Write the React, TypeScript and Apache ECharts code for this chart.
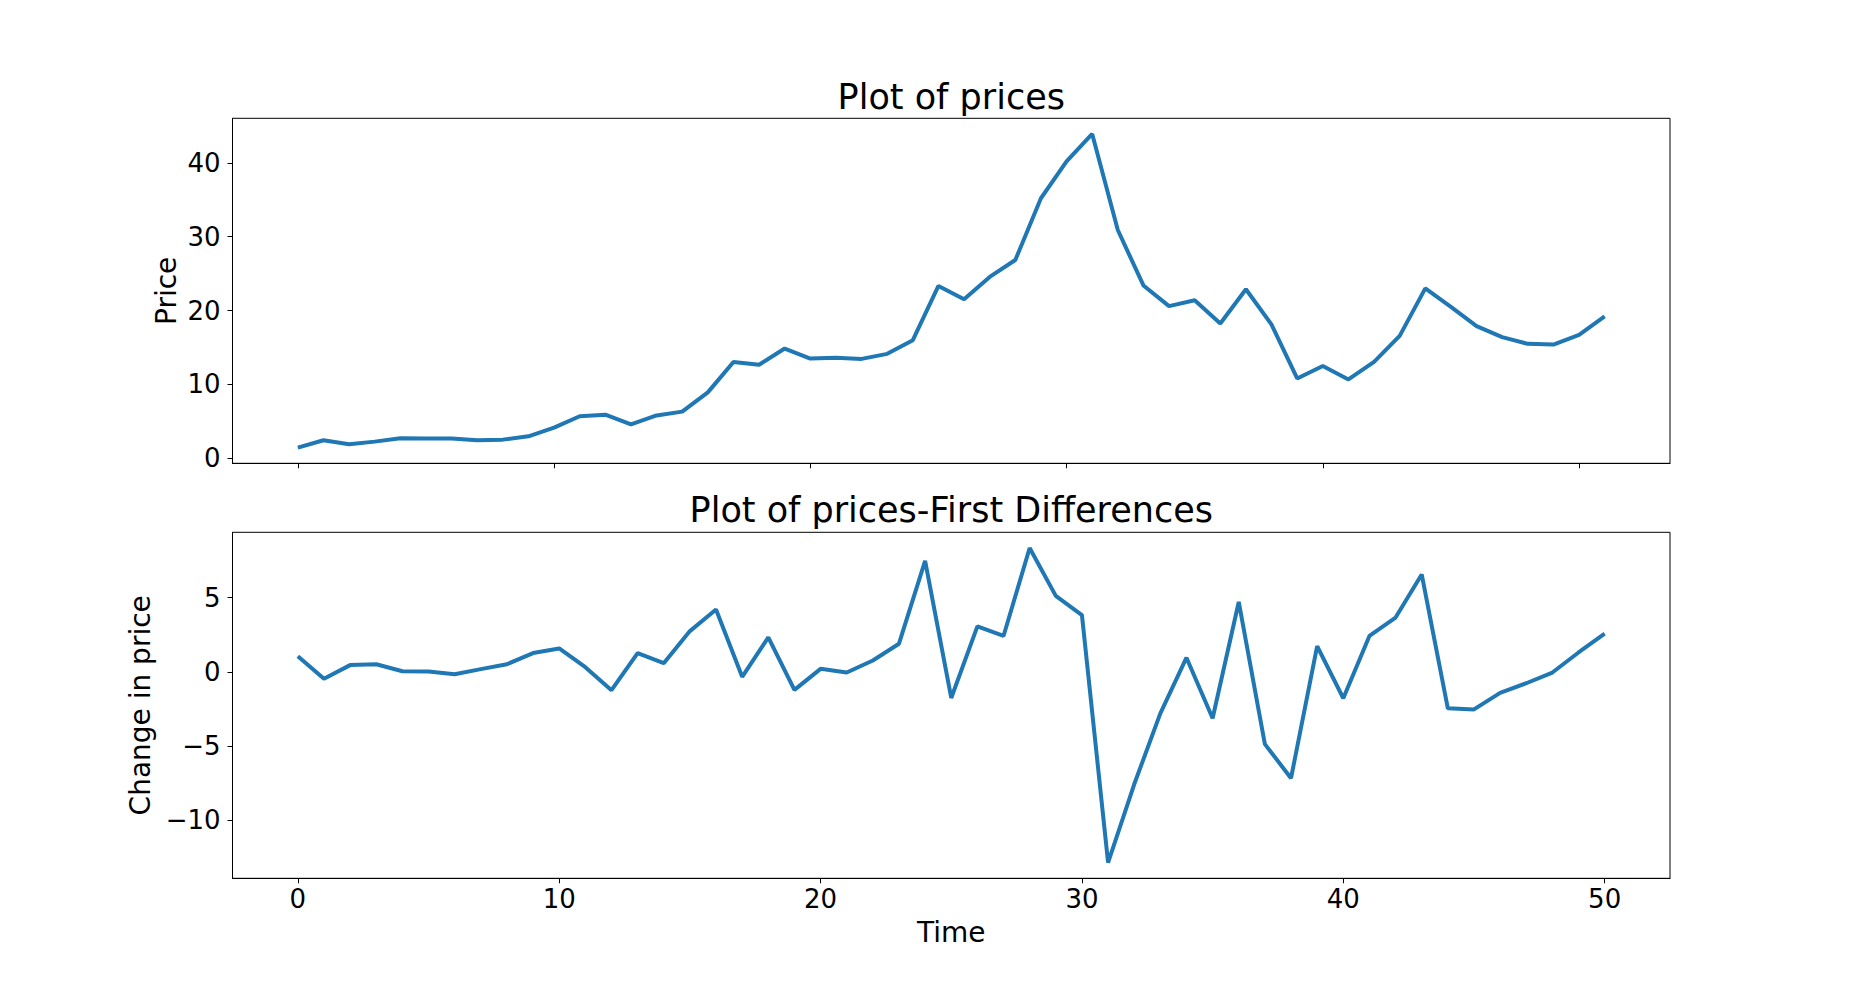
import React, { useEffect, useRef } from "react";
import * as echarts from "echarts";

// Prices at time 0..51 (top panel)
const prices: number[] = [
  1.45, 2.45, 1.9, 2.26, 2.71, 2.7, 2.68, 2.45, 2.53, 2.98,
  4.15, 5.69, 5.91, 4.6, 5.81, 6.32, 8.93, 13.03, 12.66, 14.86,
  13.51, 13.6, 13.46, 14.14, 15.99, 23.33, 21.53, 24.55, 26.84, 35.2,
  40.2, 43.9, 30.9, 23.4, 20.6, 21.4, 18.24, 22.88, 18.1, 10.81,
  12.5, 10.68, 13.06, 16.57, 23.0, 20.5, 17.9, 16.4, 15.5, 15.4,
  16.7, 19.2,
];

// First differences at time 0..50 (bottom panel)
const diffs: number[] = [
  1.05, -0.47, 0.45, 0.51, 0.04, 0.02, -0.16, 0.18, 0.51, 1.26,
  1.57, 0.31, -1.24, 1.26, 0.58, 2.74, 4.19, -0.34, 2.32, -1.22,
  0.2, -0.05, 0.76, 1.89, 7.47, -1.76, 3.06, 2.41, 8.33, 5.11,
  3.82, -12.84, -7.57, -2.8, 0.95, -3.13, 4.7, -4.87, -7.16, 1.73,
  -1.78, 2.41, 3.65, 6.55, -2.46, -2.53, -1.42, -0.77, -0.05, 1.3,
  2.57,
];

const xTicks: number[] = [0, 10, 20, 30, 40, 50];
const priceTicks: number[] = [0, 10, 20, 30, 40];
const diffTicks: number[] = [-10, -5, 0, 5];

const topTitle = "Plot of prices";
const bottomTitle = "Plot of prices-First Differences";
const topYLabel = "Price";
const bottomYLabel = "Change in price";
const xLabel = "Time";

const FONT = "DejaVu Sans";
const LINE_COLOR = "#1f77b4";
const TICK_FONT = 26;
const LABEL_FONT = 28;
const TITLE_FONT = 35;

function fmt(v: number): string {
  return String(v).replace("-", "\u2212");
}

export default function App() {
  const ref = useRef<HTMLDivElement>(null);

  useEffect(() => {
    if (!ref.current) return;
    const chart = echarts.init(ref.current, undefined, { renderer: "svg" });

    const pMin = Math.min(...prices);
    const pMax = Math.max(...prices);
    const pR = pMax - pMin;
    const dMin = Math.min(...diffs);
    const dMax = Math.max(...diffs);
    const dR = dMax - dMin;
    const nTop = prices.length - 1;
    const nBot = diffs.length - 1;

    const gridLeft = 232.5;
    const gridRight = 185;

    const axisLine = { show: true, onZero: false, lineStyle: { color: "#000", width: 1 } };
    const tick = (vals: number[]) => ({
      show: true,
      length: 5,
      customValues: vals,
      lineStyle: { color: "#000", width: 1 },
    });
    const label = (vals: number[], margin: number) => ({
      customValues: vals,
      fontFamily: FONT,
      fontSize: TICK_FONT,
      color: "#000",
      margin,
      formatter: (v: number) => fmt(v),
    });

    const textStyle = (size: number) => ({
      fontFamily: FONT,
      fontSize: size,
      fill: "#000",
    });

    chart.setOption({
      animation: false,
      backgroundColor: "#fff",
      grid: [
        {
          left: gridLeft,
          right: gridRight,
          top: 118.3,
          height: 345,
          show: true,
          borderColor: "#000",
          borderWidth: 1,
          backgroundColor: "transparent",
        },
        {
          left: gridLeft,
          right: gridRight,
          top: 532.3,
          height: 346,
          show: true,
          borderColor: "#000",
          borderWidth: 1,
          backgroundColor: "transparent",
        },
      ],
      xAxis: [
        {
          type: "value",
          gridIndex: 0,
          min: -0.05 * nTop,
          max: nTop * 1.05,
          axisLine,
          axisTick: tick(xTicks),
          axisLabel: { show: false },
          splitLine: { show: false },
        },
        {
          type: "value",
          gridIndex: 1,
          min: -0.05 * nBot,
          max: nBot * 1.05,
          axisLine,
          axisTick: tick(xTicks),
          axisLabel: label(xTicks, 8),
          splitLine: { show: false },
        },
      ],
      yAxis: [
        {
          type: "value",
          gridIndex: 0,
          min: pMin - 0.05 * pR,
          max: pMax + 0.05 * pR,
          axisLine,
          axisTick: tick(priceTicks),
          axisLabel: label(priceTicks, 12),
          splitLine: { show: false },
        },
        {
          type: "value",
          gridIndex: 1,
          min: dMin - 0.05 * dR,
          max: dMax + 0.05 * dR,
          axisLine,
          axisTick: tick(diffTicks),
          axisLabel: label(diffTicks, 12),
          splitLine: { show: false },
        },
      ],
      series: [
        {
          type: "line",
          xAxisIndex: 0,
          yAxisIndex: 0,
          data: prices.map((v, i) => [i, v]),
          showSymbol: false,
          symbol: "none",
          lineStyle: { color: LINE_COLOR, width: 4 },
        },
        {
          type: "line",
          xAxisIndex: 1,
          yAxisIndex: 1,
          data: diffs.map((v, i) => [i, v]),
          showSymbol: false,
          symbol: "none",
          lineStyle: { color: LINE_COLOR, width: 4 },
        },
      ],
      graphic: [
        {
          type: "text",
          x: 951.25,
          y: 97,
          style: { ...textStyle(TITLE_FONT), text: topTitle, textAlign: "center", textVerticalAlign: "middle" },
        },
        {
          type: "text",
          x: 951.25,
          y: 510.3,
          style: { ...textStyle(TITLE_FONT), text: bottomTitle, textAlign: "center", textVerticalAlign: "middle" },
        },
        {
          type: "text",
          x: 951.25,
          y: 932.5,
          style: { ...textStyle(LABEL_FONT), text: xLabel, textAlign: "center", textVerticalAlign: "middle" },
        },
        {
          type: "text",
          x: 166,
          y: 290.8,
          rotation: Math.PI / 2,
          style: { ...textStyle(LABEL_FONT), text: topYLabel, textAlign: "center", textVerticalAlign: "middle" },
        },
        {
          type: "text",
          x: 140,
          y: 705.3,
          rotation: Math.PI / 2,
          style: { ...textStyle(LABEL_FONT), text: bottomYLabel, textAlign: "center", textVerticalAlign: "middle" },
        },
      ],
    });

    return () => {
      chart.dispose();
    };
  }, []);

  return (
    <div
      ref={ref}
      style={{ position: "absolute", left: 0, top: 0, width: 1855, height: 986, background: "#fff" }}
    />
  );
}
